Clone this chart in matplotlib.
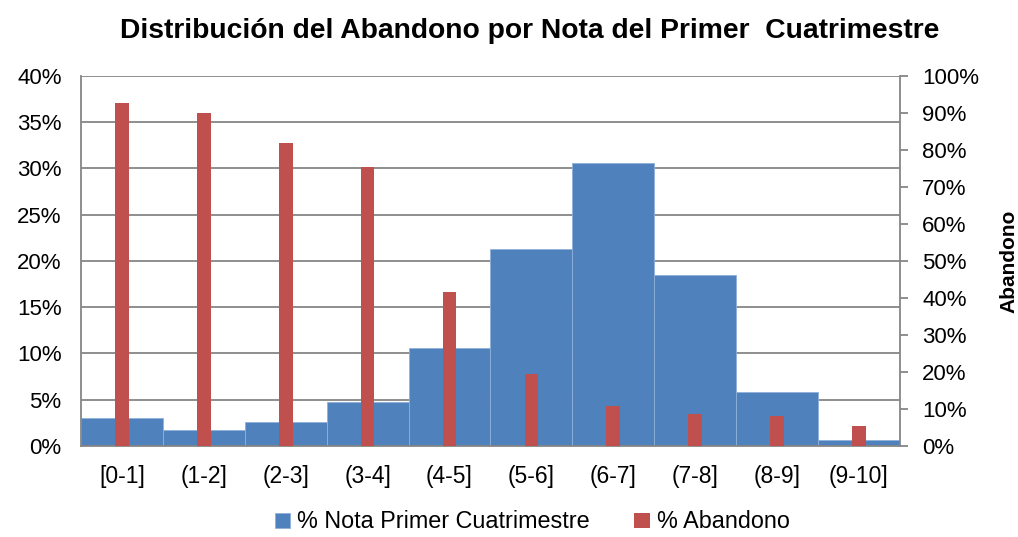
import matplotlib
matplotlib.use("Agg")
import matplotlib.pyplot as plt
from matplotlib.ticker import FuncFormatter, MultipleLocator
import numpy as np

categories = ["[0-1]", "(1-2]", "(2-3]", "(3-4]", "(4-5]", "(5-6]", "(6-7]", "(7-8]", "(8-9]", "(9-10]"]
nota_pct = [3.0, 1.75, 2.6, 4.75, 10.6, 21.3, 30.55, 18.5, 5.8, 0.65]
abandono_pct = [92.5, 89.8, 81.8, 75.4, 41.5, 19.4, 10.8, 8.6, 8.1, 5.4]

plt.rcParams['font.family'] = ['Liberation Sans', 'DejaVu Sans']

blue = "#4F81BD"
red = "#C0504D"
grid = "#868686"

fig = plt.figure(figsize=(10.18, 5.37), dpi=100)
ax = fig.add_axes([0.0796, 0.1695, 0.884 - 0.0796, 0.859 - 0.1695])
x = np.arange(len(categories))

ax.bar(x, nota_pct, width=1.0, color=blue, edgecolor="#8FB0DA", linewidth=0.6, zorder=2,
       label="% Nota Primer Cuatrimestre")
ax.set_xlim(-0.5, len(categories) - 0.5)
ax.set_ylim(0, 40)
ax.yaxis.set_major_locator(MultipleLocator(5))
ax.yaxis.set_major_formatter(FuncFormatter(lambda v, p: f"{v:.0f}%"))
ax.grid(axis='y', color=grid, linewidth=1.3, zorder=0)
ax.set_axisbelow(True)
ax.set_xticks(x)
ax.set_xticklabels(categories)
ax.tick_params(axis='x', length=0, pad=14, labelsize=16.5)
ax.tick_params(axis='y', length=0, pad=14, labelsize=16)
for s in ['top', 'right']:
    ax.spines[s].set_visible(False)
for s in ['left', 'bottom']:
    ax.spines[s].set_color(grid)
    ax.spines[s].set_linewidth(1.3)

ax2 = ax.twinx()
ax2.bar(x, abandono_pct, width=0.167, color=red, zorder=3, label="% Abandono")
ax2.set_ylim(0, 100)
ax2.yaxis.set_major_locator(MultipleLocator(10))
ax2.yaxis.set_major_formatter(FuncFormatter(lambda v, p: f"{v:.0f}%"))
ax2.tick_params(axis='y', length=6, width=1.3, color=grid, pad=10, labelsize=16)
for s in ['top', 'left', 'bottom']:
    ax2.spines[s].set_visible(False)
ax2.spines['right'].set_color(grid)
ax2.spines['right'].set_linewidth(1.3)
ax2.set_ylabel("Abandono", fontsize=15, fontweight='bold', labelpad=15)

fig.text(0.52, 0.942, "Distribución del Abandono por Nota del Primer  Cuatrimestre",
         fontsize=20.3, fontweight='bold', ha='center', va='center')

h1, l1 = ax.get_legend_handles_labels()
h2, l2 = ax2.get_legend_handles_labels()
fig.legend(h1 + h2, l1 + l2, loc='center', bbox_to_anchor=(0.523, 1 - 522 / 537), ncol=2,
           frameon=False, fontsize=16.8, handlelength=0.65, handleheight=0.65,
           handletextpad=0.3, columnspacing=1.9, borderpad=0)

fig.savefig("out.png", dpi=100)
